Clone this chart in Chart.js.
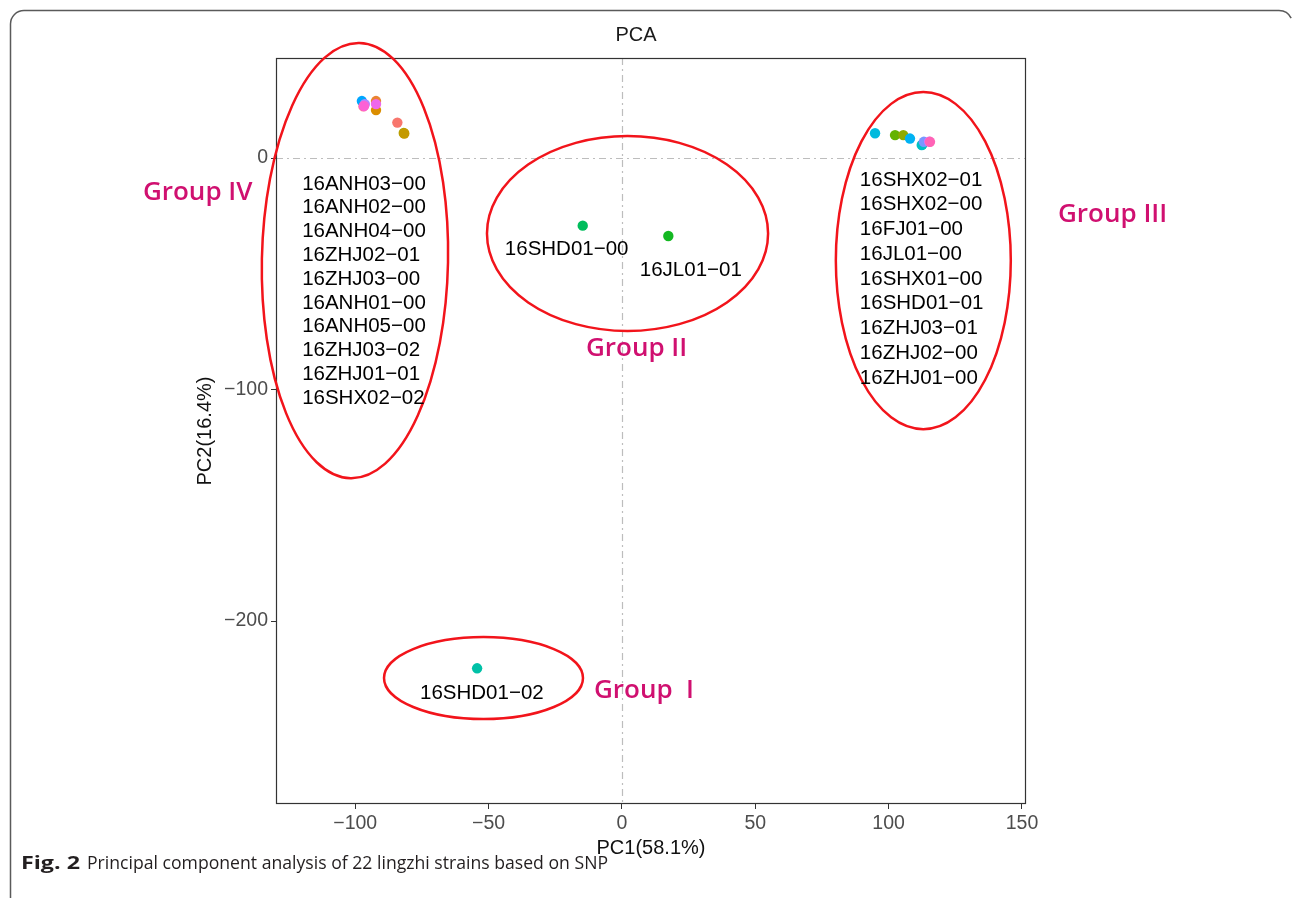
<!DOCTYPE html>
<html>
<head>
<meta charset="utf-8">
<script src="https://cdn.jsdelivr.net/npm/chart.js@4/dist/chart.umd.min.js"></script>
<style>
  html, body { margin: 0; padding: 0; background: #fff; }
  canvas { display: block; }
</style>
</head>
<body>
<canvas id="pca" width="1293" height="898"></canvas>
<script>
// Strain scores on the first two principal components (drawing order, back to front)
const strains = [
  '16ANH05-00', '16ANH04-00', '16ANH01-00', '16ANH03-00', '16ANH02-00', '16ZHJ02-01',
  '16SHX02-02', '16ZHJ01-01', '16ZHJ03-02', '16ZHJ03-00',
  '16SHD01-00', '16JL01-01',
  '16SHD01-02',
  '16SHX02-00', '16JL01-00', '16FJ01-00', '16SHX02-01', '16SHD01-01', '16SHX01-00',
  '16ZHJ01-00', '16ZHJ02-00', '16ZHJ03-01'
];
const pc1 = [
  -81.8, -81.6, -84.2, -92.2, -92.2, -92.2,
  -97.5, -96.4, -96.9, -96.7,
  -14.7, 17.4,
  -54.3,
  94.9, 102.4, 105.5, 108.0, 112.6, 112.4,
  113.2, 115.2, 115.5
];
const pc2 = [
  10.8, 10.6, 15.3, 20.7, 24.6, 23.3,
  24.6, 23.3, 22.3, 22.5,
  -29.2, -33.7,
  -220.4,
  10.7, 9.9, 9.9, 8.4, 5.8, 5.6,
  7.0, 7.1, 7.0
];
// Hue palette, one colour per strain
const strainColors = [
  '#AEA200', '#C49A00', '#F8766D', '#DB8E00', '#EA8331', '#EF67EB',
  '#00A6FF', '#B385FF', '#FF6C92', '#FC61D5',
  '#00BD5C', '#14B822',
  '#00C1A7',
  '#00BADE', '#64B200', '#8FAA00', '#00B2F3', '#00C088', '#00BFC4',
  '#7997FF', '#D874FD', '#FF63B6'
];

const xTicks = [-100, -50, 0, 50, 100, 150];
const yTicks = [-200, -100, 0];

const groupNames = ['Group  I', 'Group II', 'Group III', 'Group IV'];
const groupIMembers = ['16SHD01-02'];
const groupIIMembers = ['16SHD01-00', '16JL01-01'];
const groupIIIMembers = ['16SHX02-01', '16SHX02-00', '16FJ01-00', '16JL01-00', '16SHX01-00',
                         '16SHD01-01', '16ZHJ03-01', '16ZHJ02-00', '16ZHJ01-00'];
const groupIVMembers = ['16ANH03-00', '16ANH02-00', '16ANH04-00', '16ZHJ02-01', '16ZHJ03-00',
                        '16ANH01-00', '16ANH05-00', '16ZHJ03-02', '16ZHJ01-01', '16SHX02-02'];

const minus = s => String(s).replace(/-/g, '\u2212');

// Annotation layer: frame, panel box, zero reference lines, cluster ellipses and labels
const annotate = {
  id: 'annotate',
  beforeDatasetsDraw(chart) {
    const { ctx, chartArea: a, scales: { x, y } } = chart;
    ctx.save();
    // zero reference lines
    ctx.strokeStyle = '#bdbdbd';
    ctx.lineWidth = 1.2;
    ctx.setLineDash([7, 4, 2, 4]);
    const x0 = Math.round(x.getPixelForValue(0)) + 0.5;
    const y0 = Math.round(y.getPixelForValue(0)) + 0.5;
    ctx.beginPath();
    ctx.moveTo(x0, a.top); ctx.lineTo(x0, a.bottom);
    ctx.moveTo(a.left, y0); ctx.lineTo(a.right, y0);
    ctx.stroke();
    ctx.restore();
  },
  afterDraw(chart) {
    const { ctx, chartArea: a, scales: { x, y } } = chart;
    const H = chart.height;
    ctx.save();

    // panel border
    ctx.strokeStyle = '#333333';
    ctx.lineWidth = 1.2;
    ctx.strokeRect(a.left + 0.5, a.top + 0.5, a.right - a.left - 1, a.bottom - a.top - 1);

    // page frame
    ctx.strokeStyle = '#5a5a5a';
    ctx.lineWidth = 1.5;
    ctx.beginPath();
    ctx.moveTo(10.5, H);
    ctx.lineTo(10.5, 24);
    ctx.arcTo(10.5, 10.5, 24, 10.5, 13.5);
    ctx.lineTo(1279, 10.5);
    ctx.arc(1279, 24, 13.5, -Math.PI / 2, -0.45);
    ctx.stroke();

    // title
    ctx.fillStyle = '#1a1a1a';
    ctx.font = '20px "Liberation Sans", Arial, sans-serif';
    ctx.textAlign = 'center';
    ctx.textBaseline = 'middle';
    ctx.fillText('PCA', 636, 35);

    // cluster ellipses (centre and semi-axes in PC units)
    const ellipse = (cx, cy, rx, ry, rot) => {
      const px = x.getPixelForValue(cx), py = y.getPixelForValue(cy);
      const prx = Math.abs(x.getPixelForValue(cx + rx) - px);
      const pry = Math.abs(y.getPixelForValue(cy + ry) - py);
      ctx.beginPath();
      ctx.ellipse(px, py, prx, pry, rot || 0, 0, Math.PI * 2);
      ctx.stroke();
    };
    ctx.strokeStyle = '#f2141b';
    ctx.lineWidth = 2.5;
    ellipse(-100.1, -44.3, 34.9, 94.0, 0.02);
    ellipse(2.1, -32.6, 52.7, 42.1, 0);
    ellipse(113.0, -44.3, 32.8, 72.8, 0);
    ellipse(-51.9, -224.6, 37.3, 17.7, 0);

    // strain labels
    ctx.fillStyle = '#000';
    ctx.font = '20.5px "Liberation Sans", Arial, sans-serif';
    ctx.textAlign = 'left';
    ctx.textBaseline = 'middle';
    const column = (names, lx, ly, step) => {
      const px = x.getPixelForValue(lx), py = y.getPixelForValue(ly);
      names.forEach((n, i) => ctx.fillText(minus(n), px, py + i * step));
    };
    column(groupIVMembers, -119.9, -11.2, 23.8);
    column(groupIIIMembers, 89.2, -9.5, 24.75);
    column([groupIIMembers[0]], -43.9, -39.3, 0);
    column([groupIIMembers[1]], 6.7, -48.4, 0);
    column(groupIMembers, -75.7, -231.1, 0);

    // group names
    ctx.fillStyle = '#d01070';
    ctx.font = '600 26px "Open Sans", sans-serif';
    ctx.textBaseline = 'alphabetic';
    const gname = (t, lx, ly) => ctx.fillText(t, x.getPixelForValue(lx), y.getPixelForValue(ly));
    gname(groupNames[0], -10.5, -233.3);
    gname(groupNames[1], -13.5, -85.5);
    gname(groupNames[2], 163.5, -27.6);
    gname(groupNames[3], -179.6, -18.1);

    // caption
    const fit = (text, font, left, right, base) => {
      ctx.font = font;
      const w = ctx.measureText(text).width;
      ctx.save();
      ctx.translate(left, base);
      ctx.scale((right - left) / w, 1);
      ctx.fillText(text, 0, 0);
      ctx.restore();
    };
    ctx.fillStyle = '#231f20';
    ctx.textBaseline = 'alphabetic';
    fit('Fig. 2', 'bold 18px "Open Sans", sans-serif', 21, 80, 869);
    fit('Principal component analysis of 22 lingzhi strains based on SNP', '18px "Open Sans", sans-serif', 87, 608, 869);

    ctx.restore();
  }
};

const tickFont = { family: '"Liberation Sans", Arial, sans-serif', size: 19.5 };
const titleFont = { family: '"Liberation Sans", Arial, sans-serif', size: 20 };

new Chart(document.getElementById('pca'), {
  type: 'scatter',
  data: {
    datasets: [{
      data: pc1.map((v, i) => ({ x: v, y: pc2[i] })),
      pointBackgroundColor: strainColors,
      pointBorderWidth: 0,
      pointRadius: 5.2,
      pointHoverRadius: 5.2
    }]
  },
  options: {
    responsive: false,
    animation: false,
    devicePixelRatio: 1,
    events: [],
    layout: { padding: { left: 190, top: 58, right: 267, bottom: 32 } },
    plugins: { legend: { display: false }, tooltip: { enabled: false } },
    scales: {
      x: {
        type: 'linear', min: -129.7, max: 151.5,
        afterBuildTicks: s => { s.ticks = xTicks.map(v => ({ value: v })); },
        afterFit: s => { s.height = 62; },
        border: { display: false },
        grid: { drawOnChartArea: false, drawTicks: true, tickLength: 5, color: '#333', lineWidth: 1 },
        ticks: { font: tickFont, color: '#4d4d4d', padding: 3, maxRotation: 0, autoSkip: false, callback: v => minus(v) },
        title: { display: true, text: 'PC1(58.1%)', font: titleFont, color: '#111', padding: { top: 0, bottom: 6 } }
      },
      y: {
        type: 'linear', min: -279, max: 43.2,
        afterBuildTicks: s => { s.ticks = yTicks.map(v => ({ value: v })); },
        afterFit: s => { s.width = 86; },
        border: { display: false },
        grid: { drawOnChartArea: false, drawTicks: true, tickLength: 5, color: '#333', lineWidth: 1 },
        ticks: { font: tickFont, color: '#4d4d4d', padding: 3, autoSkip: false, callback: v => minus(v) },
        title: { display: true, text: 'PC2(16.4%)', font: titleFont, color: '#111', padding: { top: 3, bottom: 0 } }
      }
    }
  },
  plugins: [annotate]
});
</script>
</body>
</html>
